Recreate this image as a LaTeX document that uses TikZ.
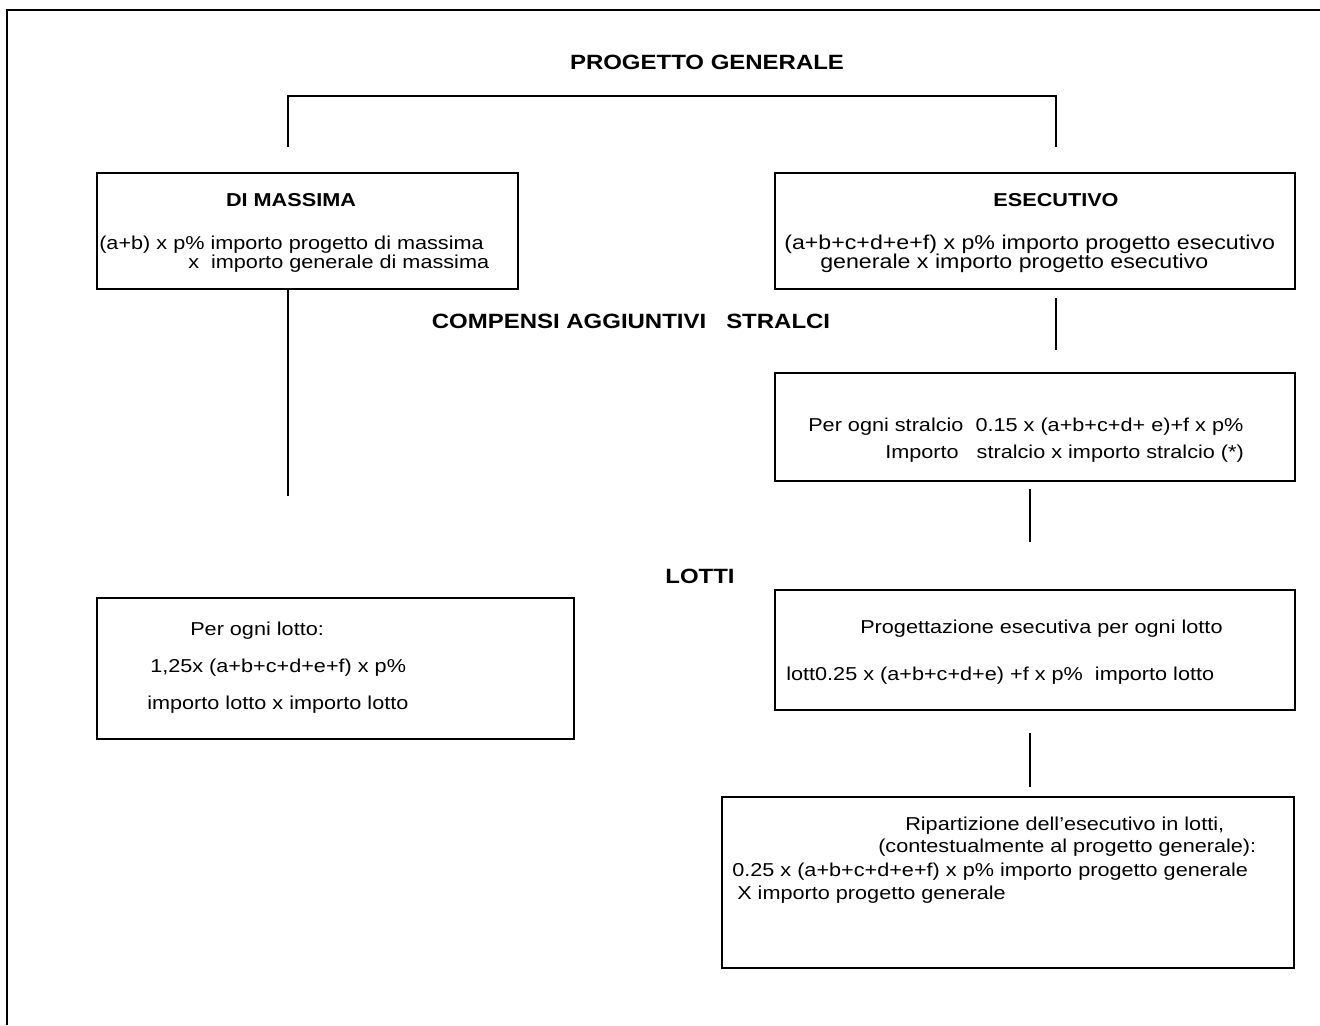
\documentclass[tikz,border=0pt]{standalone}
\usepackage{fontspec}
\setmainfont{Liberation Sans}[FakeStretch=1.16]
\begin{document}
\begin{tikzpicture}[x=0.75pt,y=-0.75pt,
  boxnode/.style={draw, line width=1.4pt, inner sep=0pt},
  txt/.style={anchor=base west, inner sep=0pt, font=\fontsize{14}{16}\selectfont},
  txtl/.style={anchor=base west, inner sep=0pt, font=\fontsize{15}{17}\selectfont},
  bhdr/.style={anchor=base, inner sep=0pt, font=\fontsize{14}{16}\selectfont\bfseries},
  hdr/.style={anchor=base, inner sep=0pt, font=\fontsize{15.5}{18}\selectfont\bfseries},
  conn/.style={line width=1.4pt},
  frame/.style={line width=1.8pt}]
\useasboundingbox (0,0) rectangle (1320,1025);
% outer frame
\draw[frame] (7,1025) -- (7,10) -- (1320,10);

% boxes
\node[boxnode, minimum width=421*0.75pt, minimum height=116*0.75pt] (dm) at (307.5,231) {};
\node[boxnode, minimum width=520*0.75pt, minimum height=116*0.75pt] (es) at (1035,231) {};
\node[boxnode, minimum width=520*0.75pt, minimum height=108*0.75pt] (st) at (1035,427) {};
\node[boxnode, minimum width=477*0.75pt, minimum height=141*0.75pt] (lo) at (335.5,668.5) {};
\node[boxnode, minimum width=520*0.75pt, minimum height=120*0.75pt] (pr) at (1035,650) {};
\node[boxnode, minimum width=572*0.75pt, minimum height=171*0.75pt] (rp) at (1008,882.5) {};

% headings
\node[hdr] (pg) at (707,69) {PROGETTO GENERALE};
\node[hdr] (ca) at (631,328) {COMPENSI AGGIUNTIVI\ \ \ STRALCI};
\node[hdr] (lt) at (700,583) {LOTTI};

% di massima
\node[bhdr] (dmh) at (291,206) {DI MASSIMA};
\node[txt] (dm1) at (99,249) {(a+b) x p\% importo progetto di massima};
\node[txt] (dm2) at (188,268) {x\ \ importo generale di massima};

% esecutivo
\node[bhdr] (esh) at (1056,206) {ESECUTIVO};
\node[txtl] (es1) at (784,249) {(a+b+c+d+e+f) x p\% importo progetto esecutivo};
\node[txtl] (es2) at (820,268) {generale x importo progetto esecutivo};

% stralci
\node[txt] (st1) at (808,431) {Per ogni stralcio\ \ 0.15 x (a+b+c+d+ e)+f x p\%};
\node[txt] (st2) at (885,458) {Importo\ \ \ stralcio x importo stralcio (*)};

% lotto sinistra
\node[txt] (lo1) at (190,635) {Per ogni lotto:};
\node[txt] (lo2) at (150,672) {1,25x (a+b+c+d+e+f) x p\%};
\node[txt] (lo3) at (147,709) {importo lotto x importo lotto};

% progettazione
\node[txt] (pr1) at (860,633) {Progettazione esecutiva per ogni lotto};
\node[txt] (pr2) at (786,680) {lott0.25 x (a+b+c+d+e) +f x p\%\ \ importo lotto};

% ripartizione
\node[txt] (rp1) at (905,830) {Ripartizione dell’esecutivo in lotti,};
\node[txt] (rp2) at (878,852) {(contestualmente al progetto generale):};
\node[txt] (rp3) at (732,876) {0.25 x (a+b+c+d+e+f) x p\% importo progetto generale};
\node[txt] (rp4) at (737,899) {X importo progetto generale};

% connector coordinates
\coordinate (bl0) at (288,147);
\coordinate (bl1) at (288,96);
\coordinate (br1) at (1056,96);
\coordinate (br0) at (1056,147);
\coordinate (dmend) at (288,496);
\coordinate (es0) at (1056,298);
\coordinate (es1e) at (1056,350);
\coordinate (st0) at (1030,489);
\coordinate (st1e) at (1030,542);
\coordinate (pr0) at (1030,733);
\coordinate (pr1e) at (1030,787);

\draw[conn] (bl0) -- (bl1) -- (br1) -- (br0);
\draw[conn] (dm.south -| bl0) -- (dmend);
\draw[conn] (es0) -- (es1e);
\draw[conn] (st0) -- (st1e);
\draw[conn] (pr0) -- (pr1e);
\end{tikzpicture}
\end{document}
